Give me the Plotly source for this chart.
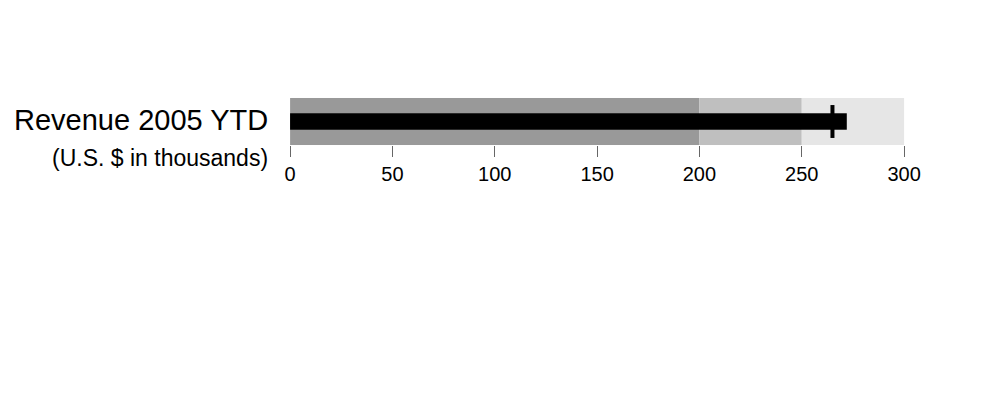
import plotly.graph_objects as go

# bullet gauge values (U.S. $ in thousands)
title_main = "Revenue 2005 YTD"
title_sub = "(U.S. $ in thousands)"
revenue = 272
target = 265
axis_max = 300
step_ranges = [[0, 200], [200, 250], [250, 300]]
step_colors = ["#999999", "#bfbfbf", "#e6e6e6"]
tick_vals = [0, 50, 100, 150, 200, 250, 300]

fig = go.Figure(go.Indicator(
    mode="gauge",
    value=revenue,
    domain={'x': [0.2838, 0.9015], 'y': [0.6617, 0.7778]},
    gauge={
        'shape': "bullet",
        'axis': {'range': [0, axis_max], 'tickvals': tick_vals, 'ticklen': 11,
                 'tickfont': {'size': 20, 'color': 'black'}, 'tickcolor': '#666'},
        'bar': {'color': 'black', 'thickness': 0.35},
        'bgcolor': 'white',
        'borderwidth': 0,
        'threshold': {'line': {'color': 'black', 'width': 4},
                      'thickness': 0.7, 'value': target},
        'steps': [{'range': r, 'color': c} for r, c in zip(step_ranges, step_colors)],
    },
))

# title placed to the left of the bullet
fig.add_annotation(text=title_main, x=0.2636, y=0.7235, xref='paper', yref='paper',
                   xanchor='right', yanchor='middle', showarrow=False,
                   font=dict(size=29, color='black'))
fig.add_annotation(text=title_sub, x=0.2636, y=0.6296, xref='paper', yref='paper',
                   xanchor='right', yanchor='middle', showarrow=False,
                   font=dict(size=23, color='black'))

fig.update_layout(
    width=994, height=405,
    margin=dict(l=0, r=0, t=0, b=0),
    font=dict(family="Liberation Sans, Arial, sans-serif"),
    paper_bgcolor='white',
)

fig.write_html("out.html")
